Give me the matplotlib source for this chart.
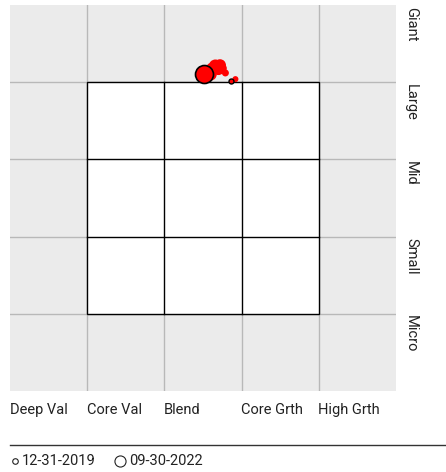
import matplotlib
matplotlib.use("Agg")
import matplotlib.pyplot as plt
from matplotlib.patches import Rectangle
from matplotlib import font_manager

fams = [f.name for f in font_manager.fontManager.ttflist]
font = "Liberation Sans Narrow" if "Liberation Sans Narrow" in fams else "Roboto"
plt.rcParams['font.family'] = [font, 'DejaVu Sans']

style_labels = ["Deep Val", "Core Val", "Blend", "Core Grth", "High Grth"]
size_labels = ["Giant", "Large", "Mid", "Small", "Micro"]

# holdings (style score 0-5, size score 0-5), bubble radius in px
hx = [2.72, 2.66, 2.62, 2.57, 2.52, 2.79, 2.70, 2.60, 2.75]
hy = [4.22, 4.21, 4.17, 4.14, 4.11, 4.12, 4.17, 4.10, 4.18]
hr = [6.0, 6.5, 6.5, 6.0, 6.0, 3.5, 6.0, 6.0, 4.5]
# centroid markers
c_old = (2.86, 4.02, 2.5)
c_new = (2.51, 4.10, 9.0)
c_extra = (2.92, 4.04, 3.0)

W, H = 446, 472
fig = plt.figure(figsize=(W/100, H/100), dpi=100)
L, R, T, B = 10, 396, 5, 391
ax = fig.add_axes([L/W, 1-B/H, (R-L)/W, (B-T)/H])
ax.set_xlim(0, 5)
ax.set_ylim(0, 5)
ax.set_facecolor("#ebebeb")
for s in ax.spines.values():
    s.set_visible(False)
ax.set_xticks([]); ax.set_yticks([])
for v in [1, 2, 3, 4]:
    ax.axvline(v, color="#b8b8b8", lw=1, zorder=1)
    ax.axhline(v, color="#b8b8b8", lw=1, zorder=1)
ax.add_patch(Rectangle((1, 1), 3, 3, facecolor="white", edgecolor="black", lw=1, zorder=2))
for v in [2, 3]:
    ax.plot([v, v], [1, 4], color="black", lw=1, zorder=3)
    ax.plot([1, 4], [v, v], color="black", lw=1, zorder=3)

def px2pt(r):
    return (2 * r * 0.72) ** 2

ax.scatter(hx, hy, s=[px2pt(r) for r in hr], color="red", edgecolors="none", zorder=5)
ax.scatter([c_extra[0]], [c_extra[1]], s=px2pt(c_extra[2]), color="red", edgecolors="none", zorder=5)
ax.scatter([c_old[0]], [c_old[1]], s=px2pt(c_old[2]), color="red", edgecolors="black", linewidths=1, zorder=6)
ax.scatter([c_new[0]], [c_new[1]], s=px2pt(c_new[2]), color="red", edgecolors="black", linewidths=1.2, zorder=6)

for i, lab in enumerate(size_labels):
    fig.text(404/W, 1-(T + 77*i + 2)/H, lab, rotation=-90, ha="left", va="top",
             fontsize=10.5, color="#222222")
for i, lab in enumerate(style_labels):
    fig.text((L + 77*i)/W, 1-410/H, lab, ha="left", va="center", fontsize=10.5, color="#222222")

fig.add_artist(plt.Line2D([10/W, 1], [1-445/H, 1-445/H], color="#333333", lw=1))
fig.add_artist(plt.Line2D([15/W], [1-461/H], marker="o", markersize=4, mfc="none", mec="#222222", mew=0.8))
fig.text(22/W, 1-461/H, "12-31-2019", ha="left", va="center", fontsize=10.5, color="#222222")
fig.add_artist(plt.Line2D([120/W], [1-461/H], marker="o", markersize=8, mfc="none", mec="#222222", mew=0.8))
fig.text(129/W, 1-461/H, "09-30-2022", ha="left", va="center", fontsize=10.5, color="#222222")

fig.savefig("out.png", dpi=100)
